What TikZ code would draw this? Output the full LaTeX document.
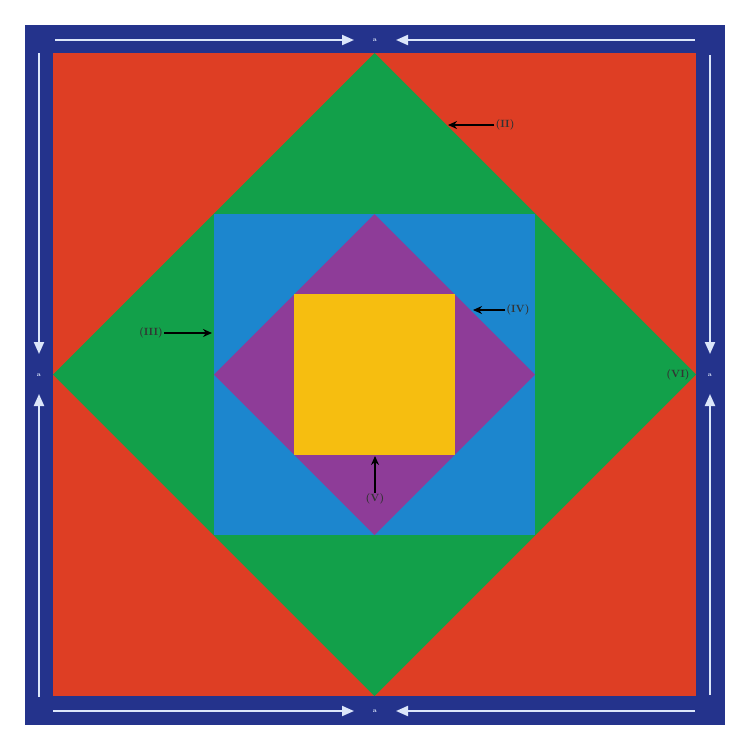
\documentclass[tikz,border=0pt]{standalone}
\usetikzlibrary{arrows.meta}
\definecolor{navy}{HTML}{24338C}
\definecolor{redbg}{HTML}{DE3E24}
\definecolor{greenD}{HTML}{12A04A}
\definecolor{blueS}{HTML}{1C86CE}
\definecolor{purpD}{HTML}{8E3C98}
\definecolor{yellowS}{HTML}{F6BE10}
\definecolor{wline}{HTML}{DCE6FA}
\tikzset{
  wl/.style={draw=wline,line width=2pt},
  warr/.style={wl,-{Triangle[length=12pt,width=10pt]}},
  lbl/.style={font=\fontsize{10.5}{12}\selectfont\bfseries,inner sep=1pt,text=black!80},
  karr/.style={draw=black,line width=1.6pt,-{Stealth[length=9pt,width=8pt]}},
  fmark/.style={font=\fontsize{6}{6}\selectfont\bfseries,text=wline,inner sep=0pt}
}
\begin{document}
\begin{tikzpicture}[x=1pt,y=-1pt]
\useasboundingbox (0,0) rectangle (750,750);
\fill[white] (0,0) rectangle (750,750);
% frame
\fill[navy] (25,25) rectangle (725,725);
\fill[redbg] (53,53) rectangle (696,696);
% shapes
\fill[greenD] (374.5,53) -- (696,374.5) -- (374.5,696) -- (53,374.5) -- cycle;
\fill[blueS] (214,214) rectangle (535,535);
\fill[purpD] (374.5,214) -- (535,374.5) -- (374.5,535) -- (214,374.5) -- cycle;
\fill[yellowS] (294,294) rectangle (455,455);
% frame marks
\node[fmark] (mt) at (375,40) {a};
\node[fmark] (mb) at (375,711) {a};
\node[fmark] (ml) at (39,375) {a};
\node[fmark] (mr) at (710,375) {a};
\coordinate (tl1) at (55,40); \coordinate (tl2) at (354,40);
\coordinate (tr1) at (695,40); \coordinate (tr2) at (396,40);
\coordinate (bl1) at (53,711); \coordinate (bl2) at (354,711);
\coordinate (br1) at (695,711); \coordinate (br2) at (396,711);
\coordinate (lt1) at (39,53); \coordinate (lt2) at (39,354);
\coordinate (lb1) at (39,697); \coordinate (lb2) at (39,394);
\coordinate (rt1) at (710,55); \coordinate (rt2) at (710,354);
\coordinate (rb1) at (710,695); \coordinate (rb2) at (710,394);
\draw[warr] (tl1) -- (tl2);
\draw[warr] (tr1) -- (tr2);
\draw[warr] (bl1) -- (bl2);
\draw[warr] (br1) -- (br2);
\draw[warr] (lt1) -- (lt2);
\draw[warr] (lb1) -- (lb2);
\draw[warr] (rt1) -- (rt2);
\draw[warr] (rb1) -- (rb2);
% labels
\node[lbl] (l2) at (505,125) {(II)};
\coordinate (t2) at (448,125);
\draw[karr] (l2.west) -- (t2);
\node[lbl] (l3) at (151,333) {(III)};
\coordinate (t3) at (212,333);
\draw[karr] (l3.east) -- (t3);
\node[lbl] (l4) at (518,310) {(IV)};
\coordinate (t4) at (473,310);
\draw[karr] (l4.west) -- (t4);
\node[lbl] (l5) at (375,499) {(V)};
\coordinate (t5) at (375,456);
\draw[karr] (l5.north) -- (t5);
\node[lbl] (l6) at (678,375) {(VI)};
\end{tikzpicture}
\end{document}
